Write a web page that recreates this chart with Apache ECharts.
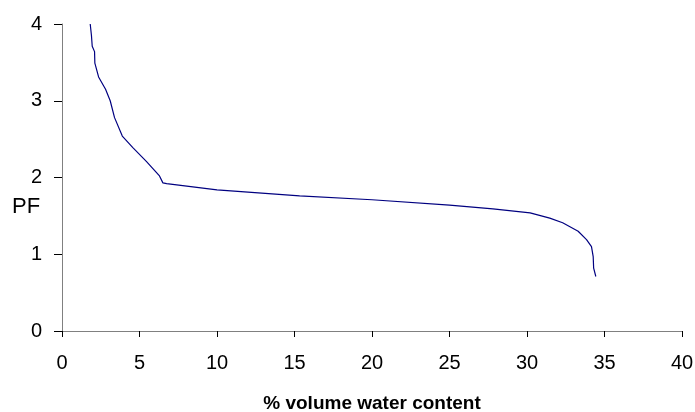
<!DOCTYPE html>
<html>
<head>
<meta charset="utf-8">
<script src="https://cdn.jsdelivr.net/npm/echarts@6/dist/echarts.min.js"></script>
<style>
html,body{margin:0;padding:0;background:#fff;}
#chart{width:695px;height:412px;}
</style>
</head>
<body>
<div id="chart"></div>
<script>
var waterContent = [1.82,1.9,1.95,2.1,2.12,2.36,2.81,3.11,3.39,3.89,4.57,5.44,6.29,6.51,6.75,10,15.33,20,25,27.8,30.2,31.47,32.3,33.3,33.84,34.16,34.27,34.3,34.44];
var pfValues =     [4.0,3.85,3.71,3.64,3.49,3.31,3.15,3.0,2.78,2.54,2.39,2.21,2.02,1.93,1.92,1.84,1.76,1.71,1.64,1.59,1.54,1.47,1.41,1.30,1.19,1.10,0.97,0.82,0.71];
var xTicks = [0,5,10,15,20,25,30,35,40];
var yTicks = [0,1,2,3,4];
var xTitle = '% volume water content';
var yTitle = 'PF';

var data = waterContent.map(function(x,i){return [x,pfValues[i]];});
var font = 'Liberation Sans, Arial, sans-serif';
var chart = echarts.init(document.getElementById('chart'));
chart.setOption({
  animation:false,
  backgroundColor:'#fff',
  grid:{left:62,right:13,top:24,bottom:81,outerBoundsMode:'none',containLabel:false},
  xAxis:{
    type:'value',min:xTicks[0],max:xTicks[xTicks.length-1],interval:5,
    name:xTitle,nameLocation:'middle',nameGap:63,
    nameTextStyle:{fontFamily:font,fontWeight:'bold',fontSize:19,color:'#000'},
    axisLine:{lineStyle:{color:'#808080',width:1}},
    axisTick:{length:6,lineStyle:{color:'#000'}},
    axisLabel:{margin:22,fontFamily:font,fontSize:20,color:'#000'},
    splitLine:{show:false}
  },
  yAxis:{
    type:'value',min:yTicks[0],max:yTicks[yTicks.length-1],interval:1,
    axisLine:{show:true,lineStyle:{color:'#808080',width:1}},
    axisTick:{show:true,length:8,lineStyle:{color:'#000'}},
    axisLabel:{margin:20,fontFamily:font,fontSize:20,color:'#000'},
    splitLine:{show:false}
  },
  graphic:[{type:'text',left:12,top:196,style:{text:yTitle,font:'22px '+font,fill:'#000'}}],
  series:[{type:'line',data:data,showSymbol:false,symbol:'none',smooth:false,
    lineStyle:{color:'#000080',width:1.2}}]
});
</script>
</body>
</html>
